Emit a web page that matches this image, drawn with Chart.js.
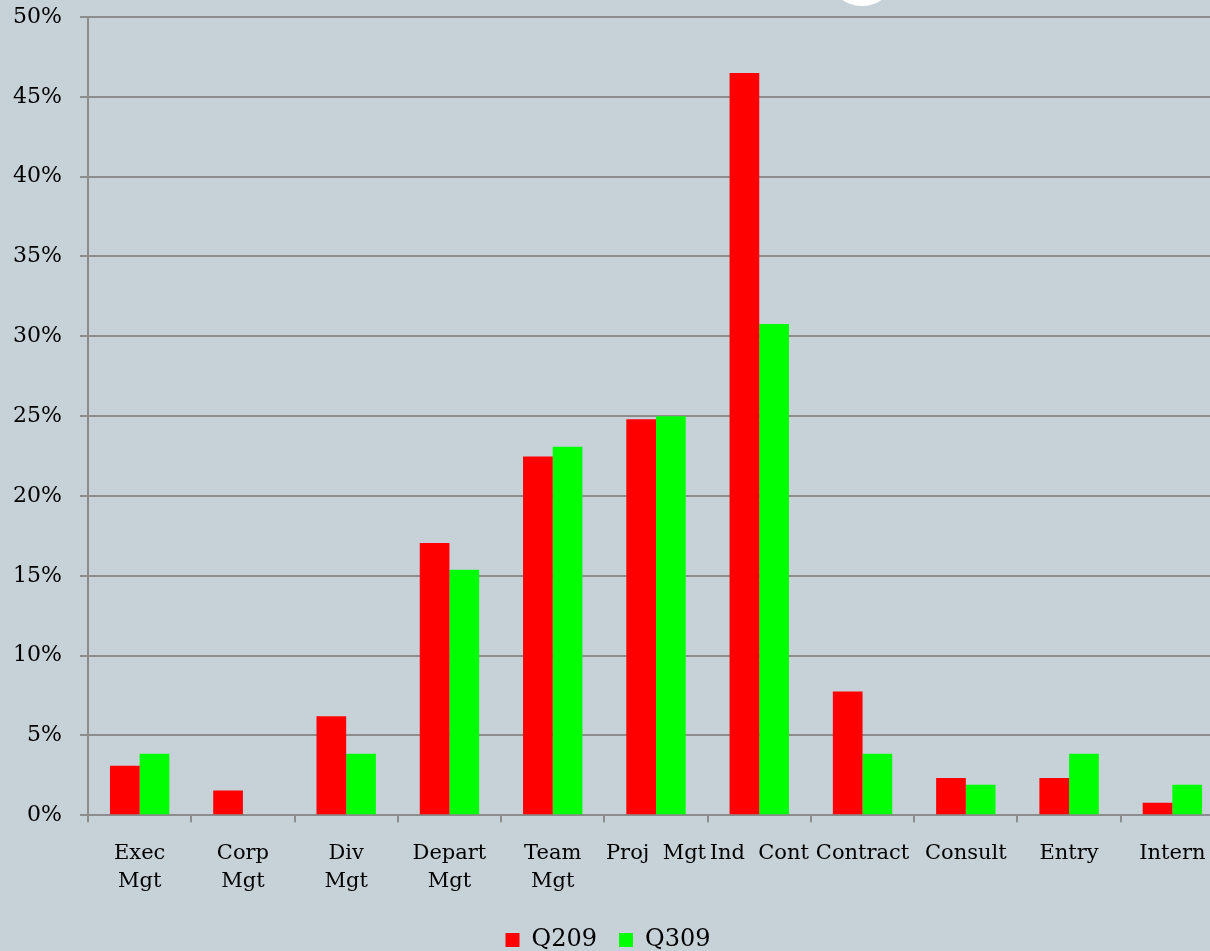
<!DOCTYPE html>
<html><head><meta charset="utf-8">
<script src="https://cdn.jsdelivr.net/npm/chart.js@4/dist/chart.umd.min.js"></script>
<style>
html,body{margin:0;padding:0;overflow:hidden;background:#c6d1d8;}
#wrap{position:relative;width:1224px;height:951px;}
#blob{position:absolute;left:828px;top:-60px;width:68px;height:66px;border-radius:50%;background:#fff;}
</style></head>
<body>
<div id="wrap"><canvas id="c" width="1224" height="951"></canvas><div id="blob"></div></div>
<script>
const categories = [["Exec","Mgt"],["Corp","Mgt"],["Div","Mgt"],["Depart","Mgt"],["Team","Mgt"],"Proj  Mgt","Ind  Cont","Contract","Consult","Entry","Intern"];
const q209 = [3.1, 1.55, 6.2, 17.05, 22.48, 24.8, 46.5, 7.75, 2.33, 2.33, 0.78];
const q309 = [3.85, 0, 3.85, 15.38, 23.08, 25.0, 30.77, 3.85, 1.92, 3.85, 1.92];
const yTicks = [0,5,10,15,20,25,30,35,40,45,50];
const FONT = "'DejaVu Serif', serif";
const legendShift = {
  id:'legendShift',
  afterLayout(chart){
    const l = chart.legend;
    if (l) { l.top -= 7; l.bottom -= 7; l.left -= 4; l.right -= 4; }
  }
};
new Chart(document.getElementById('c'), {
  type: 'bar',
  data: {
    labels: categories,
    datasets: [
      {label:'Q209', data:q209, backgroundColor:'#ff0000', categoryPercentage:0.575, barPercentage:1},
      {label:'Q309', data:q309, backgroundColor:'#00ff00', categoryPercentage:0.575, barPercentage:1}
    ]
  },
  plugins:[legendShift],
  options: {
    responsive:false, animation:false,
    layout:{padding:{top:0,left:0,right:0,bottom:-18}},
    plugins:{
      legend:{position:'bottom',
        labels:{font:{family:FONT,size:24},color:'#000',boxWidth:14,boxHeight:14,padding:22}},
      tooltip:{enabled:false}
    },
    scales:{
      x:{offset:true,
        grid:{drawOnChartArea:false,drawTicks:true,tickLength:7,color:'#8c8c8c',lineWidth:2,offset:true},
        border:{color:'#8c8c8c',width:2},
        ticks:{font:{family:FONT,size:21,lineHeight:1.35},color:'#000',padding:17,maxRotation:0,autoSkip:false}
      },
      y:{min:0,max:50,
        afterFit:s=>{s.width=88; s.paddingTop=17; s.paddingBottom=14;},
        afterBuildTicks:s=>{s.ticks=yTicks.map(v=>({value:v}));},
        grid:{color:'#8c8c8c',lineWidth:2,tickLength:8},
        border:{color:'#8c8c8c',width:2},
        ticks:{font:{family:FONT,size:22},color:'#000',padding:18,callback:v=>v+'%'}
      }
    }
  }
});
</script>
</body></html>
